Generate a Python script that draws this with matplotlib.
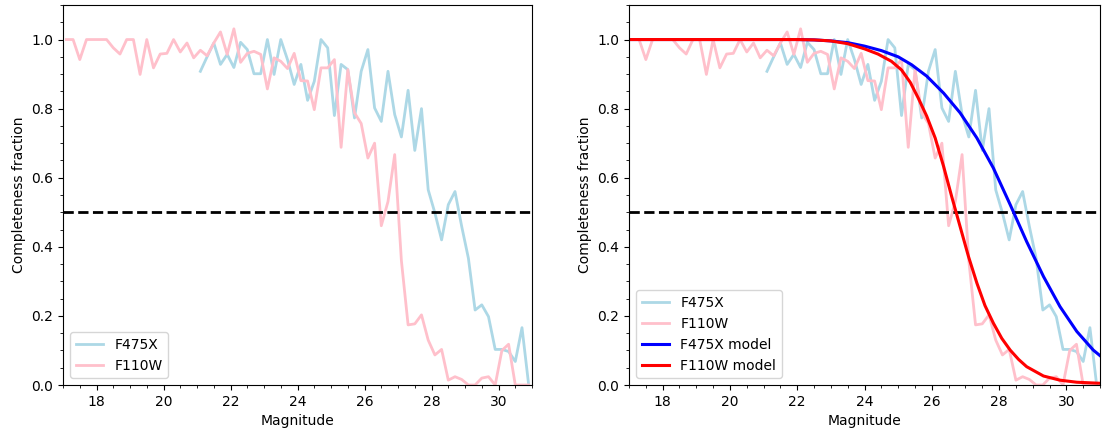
import numpy as np
import matplotlib
matplotlib.use("Agg")
from matplotlib import pyplot as plt
from matplotlib.ticker import MultipleLocator

# magnitude bin centres (0.2 mag bins from 17 to 31)
mag = np.round(np.arange(17.1, 31.0, 0.2), 2)

# F110W completeness per bin
f110w = [1.0, 1.0, 0.942, 1.0, 1.0, 1.0, 1.0, 0.976, 0.958, 1.0,
         1.0, 0.899, 1.0, 0.918, 0.958, 0.96, 1.0, 0.964, 0.99, 0.947,
         0.969, 0.953, 0.99, 1.022, 0.957, 1.031, 0.934, 0.96, 0.966, 0.957,
         0.857, 0.947, 0.937, 0.916, 0.96, 0.881, 0.88, 0.797, 0.918, 0.918,
         0.942, 0.688, 0.913, 0.788, 0.757, 0.657, 0.70, 0.461, 0.531, 0.667,
         0.36, 0.174, 0.177, 0.203, 0.13, 0.087, 0.103, 0.014, 0.024, 0.016,
         0.0, 0.0, 0.02, 0.024, 0.0, 0.10, 0.118, 0.0, 0.0, 0.0]

# F475X completeness, only starts at 21.1
f475x = [np.nan] * 20 + [
    0.908, 0.95, 0.99, 0.928, 0.957, 0.919, 0.992, 0.971, 0.901, 0.901,
    1.0, 0.899, 1.0, 0.942, 0.87, 0.928, 0.824, 0.879, 1.0, 0.976,
    0.78, 0.928, 0.913, 0.773, 0.908, 0.971, 0.802, 0.763, 0.908, 0.783,
    0.718, 0.853, 0.679, 0.80, 0.565, 0.498, 0.42, 0.522, 0.56, 0.459,
    0.367, 0.217, 0.232, 0.198, 0.103, 0.103, 0.097, 0.068, 0.166, 0.0]

# fitted models
mod475_x = [17.0, 22.0, 22.5, 23.0, 23.5, 24.0, 24.5, 25.0, 25.4, 25.85,
            26.35, 26.84, 27.34, 27.83, 28.33, 28.82, 29.32, 29.81, 30.31,
            30.80, 31.0]
mod475_y = [1.0, 1.0, 0.999, 0.996, 0.991, 0.981, 0.968, 0.95, 0.927, 0.894,
            0.845, 0.788, 0.715, 0.628, 0.522, 0.415, 0.314, 0.227, 0.155,
            0.101, 0.085]

mod110_x = [17.0, 22.0, 22.5, 23.0, 23.5, 24.0, 24.4, 24.8, 25.1, 25.36,
            25.6, 25.85, 26.1, 26.35, 26.59, 26.84, 27.09, 27.34, 27.58, 27.83,
            28.08, 28.33, 28.58, 28.82, 29.32, 29.81, 30.31, 31.0]
mod110_y = [1.0, 1.0, 0.999, 0.996, 0.988, 0.973, 0.958, 0.937, 0.912, 0.876,
            0.83, 0.778, 0.715, 0.633, 0.546, 0.459, 0.372, 0.295, 0.23, 0.179,
            0.135, 0.101, 0.074, 0.053, 0.026, 0.014, 0.008, 0.005]

plt.rcParams['font.size'] = 10

fig = plt.figure(figsize=(11.02, 4.34), dpi=100)
ax1 = fig.add_axes([0.0572, 0.1129, 0.4256, 0.8756])
ax2 = fig.add_axes([0.5708, 0.1129, 0.4274, 0.8756])

for ax in (ax1, ax2):
    ax.plot(mag, f475x, color='lightblue', lw=2, label='F475X')
    ax.plot(mag, f110w, color='pink', lw=2, label='F110W')
    ax.axhline(0.5, color='k', ls='--', lw=2)

ax2.plot(mod475_x, mod475_y, color='blue', lw=2.2, label='F475X model')
ax2.plot(mod110_x, mod110_y, color='red', lw=2.2, label='F110W model')

for ax in (ax1, ax2):
    ax.set_xlim(17, 31)
    ax.set_ylim(0, 1.1)
    ax.xaxis.set_major_locator(MultipleLocator(2))
    ax.xaxis.set_minor_locator(MultipleLocator(0.5))
    ax.yaxis.set_major_locator(MultipleLocator(0.2))
    ax.yaxis.set_minor_locator(MultipleLocator(0.05))
    ax.set_xlabel('Magnitude')
    ax.set_ylabel('Completeness fraction')
    ax.legend(loc='lower left')

fig.savefig('out.png', dpi=100)
